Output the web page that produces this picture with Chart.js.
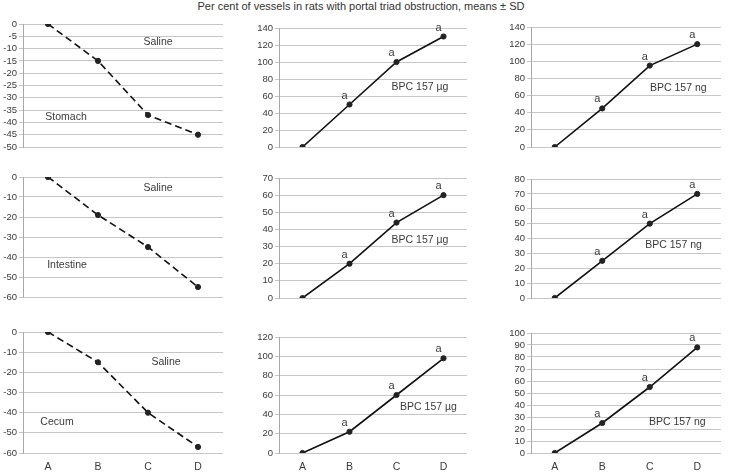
<!DOCTYPE html>
<html>
<head>
<meta charset="utf-8">
<script src="https://cdn.jsdelivr.net/npm/chart.js@4.4.1/dist/chart.umd.min.js"></script>
<style>
  body { margin: 0; background: #fff; }
  #page { position: relative; width: 733px; height: 473px; overflow: hidden; }
  #title { position: absolute; top: 0; left: 0; width: 722px; text-align: center;
           font: 11px "Liberation Sans", Arial, sans-serif; color: #333; }
  canvas { position: absolute; }
</style>
</head>
<body>
<div id="page">
  <div id="title">Per cent of vessels in rats with portal triad obstruction, means ± SD</div>
</div>
<script>
// groups on the x axis
const categories = ['A', 'B', 'C', 'D'];

// series
const stomachSaline = [0, -15, -37, -45];
const stomachUg = [0, 50, 100, 130];
const stomachNg = [0, 45, 95, 120];
const intestineSaline = [0, -19, -35, -55];
const intestineUg = [0, 20, 44, 60];
const intestineNg = [0, 25, 50, 70];
const cecumSaline = [0, -15, -40, -57];
const cecumUg = [0, 22, 60, 98];
const cecumNg = [0, 25, 55, 88];

// y axis: [min, max, step]
const stomachSalineAxis = [-50, 0, 5];
const stomachUgAxis = [0, 140, 20];
const stomachNgAxis = [0, 140, 20];
const intestineSalineAxis = [-60, 0, 10];
const intestineUgAxis = [0, 70, 10];
const intestineNgAxis = [0, 80, 10];
const cecumSalineAxis = [-60, 0, 10];
const cecumUgAxis = [0, 120, 20];
const cecumNgAxis = [0, 100, 10];

// points marked "a"
const markedPoints = [1, 2, 3];

const panels = [
  { data: stomachSaline, axis: stomachSalineAxis, dashed: true, rect: [23, 24, 223, 147],
    notes: [['Saline', 2.2, -7.3], ['Stomach', 0.36, -38]] },
  { data: stomachUg, axis: stomachUgAxis, marks: true, rect: [279, 28, 467, 147],
    notes: [['BPC 157 µg', 2.5, 70]] },
  { data: stomachNg, axis: stomachNgAxis, marks: true, rect: [531, 27, 721, 147],
    notes: [['BPC 157 ng', 2.6, 69]] },
  { data: intestineSaline, axis: intestineSalineAxis, dashed: true, rect: [23, 177, 223, 297],
    notes: [['Saline', 2.2, -5.5], ['Intestine', 0.38, -44]] },
  { data: intestineUg, axis: intestineUgAxis, marks: true, rect: [279, 178, 467, 298],
    notes: [['BPC 157 µg', 2.5, 34]] },
  { data: intestineNg, axis: intestineNgAxis, marks: true, rect: [531, 179, 721, 298],
    notes: [['BPC 157 ng', 2.5, 35.6]] },
  { data: cecumSaline, axis: cecumSalineAxis, dashed: true, rect: [23, 332, 223, 453], xLabels: true,
    notes: [['Saline', 2.36, -15], ['Cecum', 0.18, -44.6]] },
  { data: cecumUg, axis: cecumUgAxis, marks: true, rect: [279, 337, 467, 453], xLabels: true,
    notes: [['BPC 157 µg', 2.68, 47.6]] },
  { data: cecumNg, axis: cecumNgAxis, marks: true, rect: [531, 333, 721, 453], xLabels: true,
    notes: [['BPC 157 ng', 2.58, 25.8]] }
];

const GRID = '#c6c6c6';
const TEXT = '#3a3a3a';
const AXIS_W = 40, PAD = 10, X_H = 22;

const notesPlugin = {
  id: 'notes',
  afterDatasetsDraw(chart, args, opts) {
    const ctx = chart.ctx;
    const x = chart.scales.x, y = chart.scales.y;
    ctx.save();
    ctx.fillStyle = TEXT;
    ctx.font = '10.5px "Liberation Sans", Arial, sans-serif';
    ctx.textAlign = 'center';
    ctx.textBaseline = 'middle';
    (opts.notes || []).forEach(n => {
      ctx.fillText(n[0], x.getPixelForValue(n[1]), y.getPixelForValue(n[2]));
    });
    if (opts.marks) {
      const pts = chart.getDatasetMeta(0).data;
      ctx.font = '11px "Liberation Sans", Arial, sans-serif';
      markedPoints.forEach(i => {
        ctx.fillText('a', pts[i].x - 5, pts[i].y - 9);
      });
    }
    ctx.restore();
  }
};

const page = document.getElementById('page');

panels.forEach(p => {
  const [L, T, R, B] = p.rect;
  const bottomSpace = p.xLabels ? X_H : PAD;
  const w = (R - L) + AXIS_W + PAD;
  const h = (B - T) + PAD + bottomSpace;
  const canvas = document.createElement('canvas');
  canvas.style.left = (L - AXIS_W) + 'px';
  canvas.style.top = (T - PAD) + 'px';
  canvas.style.width = w + 'px';
  canvas.style.height = h + 'px';
  canvas.width = w;
  canvas.height = h;
  page.appendChild(canvas);

  new Chart(canvas.getContext('2d'), {
    type: 'line',
    data: {
      labels: categories,
      datasets: [{
        data: p.data,
        borderColor: '#111',
        backgroundColor: '#222',
        borderWidth: 1.6,
        borderDash: p.dashed ? [7, 4] : [],
        pointRadius: 2.6,
        pointBorderWidth: 1,
        pointBorderColor: '#222',
        tension: 0
      }]
    },
    options: {
      responsive: false,
      animation: false,
      layout: { padding: { top: PAD, right: PAD, bottom: p.xLabels ? 0 : PAD, left: 0 } },
      plugins: {
        legend: { display: false },
        tooltip: { enabled: false },
        notes: { notes: p.notes, marks: !!p.marks }
      },
      scales: {
        x: {
          type: 'category',
          offset: true,
          display: !!p.xLabels,
          grid: { display: false, drawTicks: false },
          border: { display: false },
          ticks: { color: TEXT, padding: 8, font: { family: '"Liberation Sans", Arial, sans-serif', size: 10.5 } },
          afterFit(scale) { if (p.xLabels) scale.height = X_H; }
        },
        y: {
          min: p.axis[0],
          max: p.axis[1],
          ticks: {
            stepSize: p.axis[2],
            autoSkip: false,
            color: TEXT,
            padding: 2,
            font: { family: '"Liberation Sans Narrow", "Liberation Sans", Arial, sans-serif', size: 9.5 }
          },
          grid: { color: GRID, lineWidth: 1, tickLength: 4 },
          border: { color: '#a8a8a8' },
          afterFit(scale) { scale.width = AXIS_W; }
        }
      }
    },
    plugins: [notesPlugin]
  });
});
</script>
</body>
</html>
